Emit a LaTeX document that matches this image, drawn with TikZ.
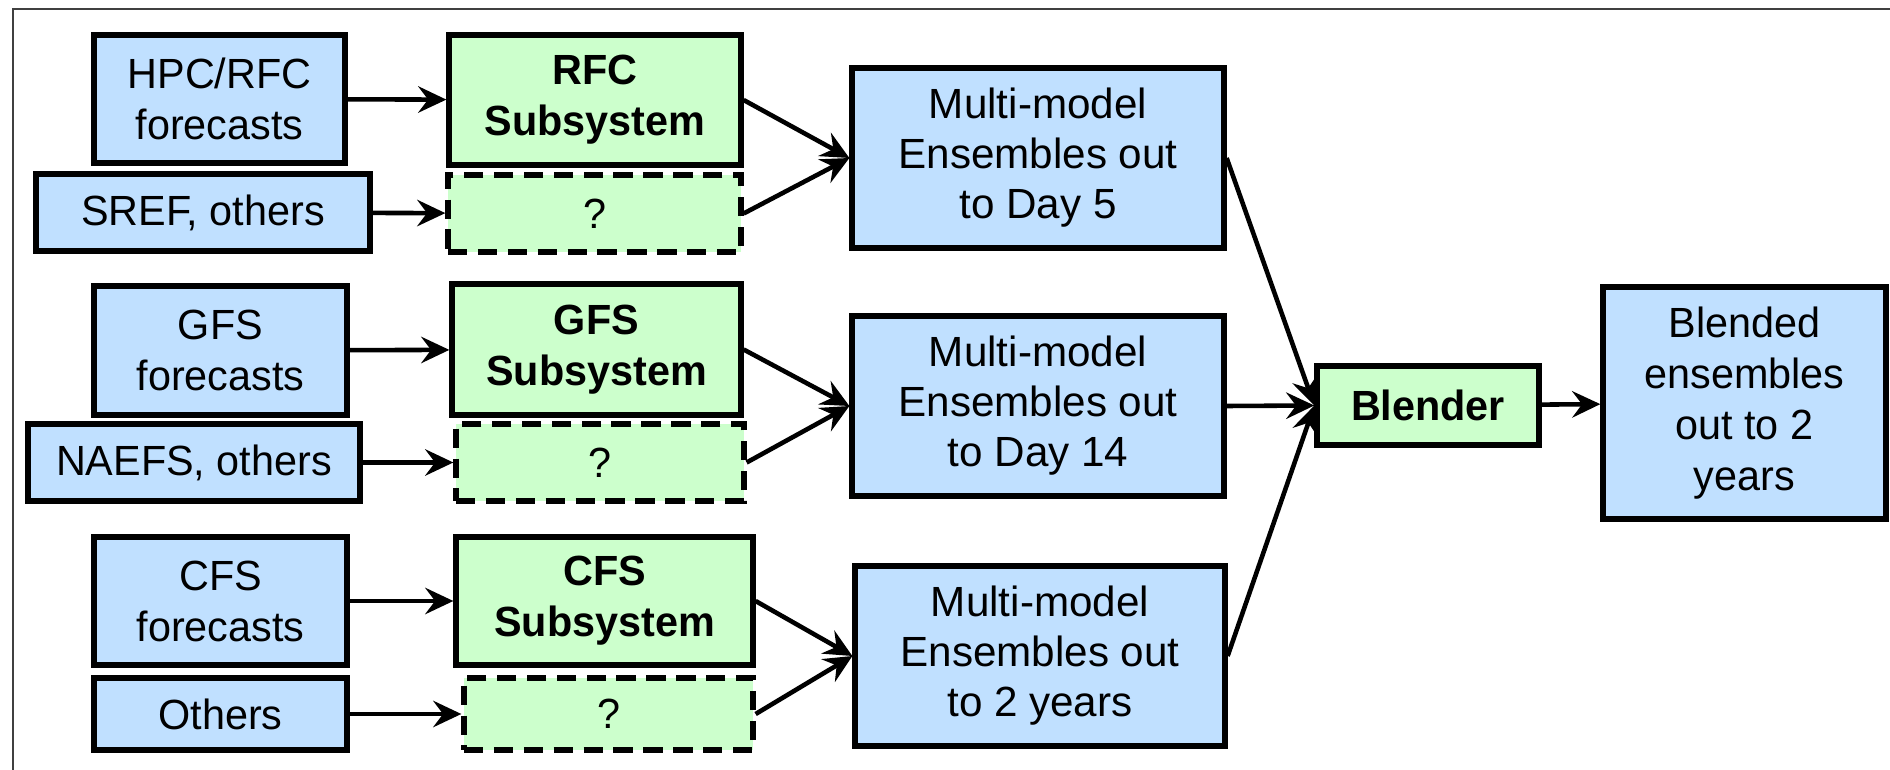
\documentclass[tikz,border=0pt]{standalone}
\usepackage{fontspec}
\setmainfont{Liberation Sans}
\newfontfamily\boxfont[FakeStretch=0.98]{Liberation Sans}
\usetikzlibrary{arrows.meta}
\definecolor{inblue}{RGB}{192,224,255}
\definecolor{subgreen}{RGB}{204,255,204}
\begin{document}
\begin{tikzpicture}[x=0.01cm,y=-0.01cm,
  sz/.style 2 args={minimum width=#1*0.01cm,minimum height=#2*0.01cm},
  inbox/.style={draw,line width=1.5pt,fill=inblue,inner sep=0pt,align=center,
    font=\fontsize{12}{14.5}\selectfont\boxfont},
  subbox/.style={inbox,fill=subgreen,font=\fontsize{12}{14.5}\selectfont\boxfont\bfseries},
  qbox/.style={inbox,fill=subgreen,dash pattern=on 5.5pt off 3pt},
  mmbox/.style={inbox,font=\fontsize{12}{14.2}\selectfont},
  arr/.style={-{Stealth[length=8pt,width=7.5pt,inset=2.8pt]},line width=1.3pt}]
\useasboundingbox (0,0) rectangle (1890,770);
\draw[line width=0.8pt,black!75] (13,770) |- (1890,9);
% inputs
\node(hpc) at (219.5,99)[inbox,sz={251}{128}]       {HPC/RFC\\forecasts};
\node(sref) at (203,212.5)[inbox,sz={334}{77}]      {SREF, others};
\node(gfs) at (220.5,350.5)[inbox,sz={253}{129}]    {GFS\\forecasts};
\node(naefs) at (194,462.5)[inbox,sz={332}{77}]     {NAEFS, others};
\node(cfs) at (220.5,601)[inbox,sz={253}{128}]      {CFS\\forecasts};
\node(others) at (220.5,714)[inbox,sz={253}{72}]    {Others};
% subsystems
\node(rfcsub) at (595,100)[subbox,sz={292}{130}]    {RFC\\Subsystem};
\node(q1) at (594.5,213.5)[qbox,sz={293}{77}]       {?};
\node(gfssub) at (596.5,349.5)[subbox,sz={289}{131}]{GFS\\Subsystem};
\node(q2) at (600,462.5)[qbox,sz={288}{77}]         {?};
\node(cfssub) at (604.5,601)[subbox,sz={297}{128}]  {CFS\\Subsystem};
\node(q3) at (608.5,714)[qbox,sz={289}{72}]         {?};
% ensembles
\node(mm5) at (1038,158)[mmbox,sz={372}{180}]       {Multi-model\\Ensembles out\\to Day 5};
\node(mm14) at (1038,406)[mmbox,sz={372}{180}]      {Multi-model\\Ensembles out\\to Day 14};
\node(mm2) at (1040,656)[mmbox,sz={370}{180}]       {Multi-model\\Ensembles out\\to 2 years};
\node(blender) at (1428,405.5)[subbox,sz={222}{79}] {Blender};
\node(blended) at (1744.5,403)[inbox,sz={283}{232}] {Blended\\ensembles\\out to 2\\years};
\path [arr]
  (hpc)         edge (rfcsub)
  (sref)        edge (q1)
  (gfs)         edge (gfssub)
  (naefs)       edge (q2)
  (cfs)         edge (cfssub)
  (others)      edge (q3)
  (rfcsub.east) edge (mm5.west)
  (q1.east)     edge (mm5.west)
  (gfssub.east) edge (mm14.west)
  (q2.east)     edge (mm14.west)
  (cfssub.east) edge (mm2.west)
  (q3.east)     edge (mm2.west)
  (mm5.east)    edge (blender.west)
  (mm14.east)   edge (blender.west)
  (mm2.east)    edge (blender.west)
  (blender)     edge (blended);
\end{tikzpicture}
\end{document}
